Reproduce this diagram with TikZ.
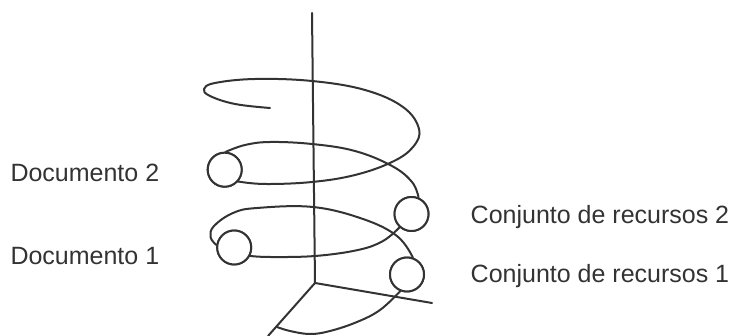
\documentclass[tikz,border=0pt]{standalone}
\usepackage{fontspec}
\setmainfont{Liberation Sans}
\begin{document}
\begin{tikzpicture}[x=1pt,y=-1pt,
  lc/.style={draw=black!80,line width=2pt,line cap=round,line join=round},
  ring/.style={circle,lc,fill=white,minimum size=34pt,inner sep=0pt},
  lbl/.style={anchor=base west,inner sep=0pt,text=black!80,font=\fontsize{25}{30}\selectfont}]
\useasboundingbox (0,0) rectangle (736,336);
% axes
\coordinate (o) at (315,283);
\coordinate (ztop) at (312,13);
\coordinate (xend) at (432,303);
\coordinate (yend) at (268,336);
\coordinate (s) at (270,108);
\coordinate (e) at (277,327);
\draw[lc] (ztop) -- (o) -- (xend);
\draw[lc] (o) -- (yend);
% circles
\node[ring] (d2) at (224.7,169.7) {};
\node[ring] (c2) at (411.5,214) {};
\node[ring] (d1) at (234.2,247.5) {};
\node[ring] (c1) at (407,274.5) {};
% spiral segments
\draw[lc] plot[smooth,tension=0.65] coordinates {(s) (235,104) (210,96) (204,89) (215,83) (255,79) (312,81) (365,90) (403,107) (419,129) (413,147) (392,162) (355,175) (312,182) (265,184) (d2.-41)};
\draw[lc] plot[smooth,tension=0.65] coordinates {(d2.86) (245,145) (270,142) (312,144) (355,151) (392,166) (412,182) (c2.67)};
\draw[lc] plot[smooth,tension=0.65] coordinates {(c2.228) (383,241) (358,250) (315,256) (270,257) (d1.-28)};
\draw[lc] plot[smooth,tension=0.65] coordinates {(d1.172) (210.5,237) (214,226) (233,213) (257,208) (313,207) (363,219) (397,236) (c1.71)};
\draw[lc] plot[smooth,tension=0.65] coordinates {(c1.-112) (380,310) (357,322) (330,331) (310,334) (290,331) (e)};
% redraw circles on top
\node[ring] at (d2) {};
\node[ring] at (c2) {};
\node[ring] at (d1) {};
\node[ring] at (c1) {};
% labels
\node[lbl] (t2) at (10.3,181.5) {Documento 2};
\node[lbl] (t1) at (10.3,265) {Documento 1};
\node[lbl] (r2) at (470.5,224) {Conjunto de recursos 2};
\node[lbl] (r1) at (470.5,282.5) {Conjunto de recursos 1};
\end{tikzpicture}
\end{document}
